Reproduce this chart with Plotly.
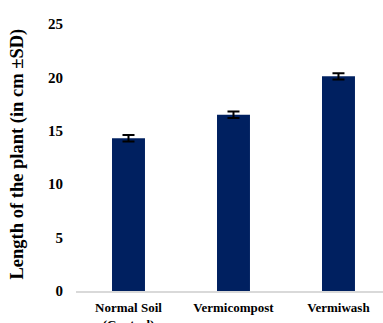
import plotly.graph_objects as go

categories = ["Normal Soil<br>(Control)", "Vermicompost", "Vermiwash"]
plant_length = [14.3, 16.5, 20.1]
plant_length_sd = [0.3, 0.3, 0.3]
y_ticks = [0, 5, 10, 15, 20, 25]
y_title = "Length of the plant (in cm ±SD)"

serif = "Liberation Serif, serif"

fig = go.Figure(
    go.Bar(
        x=categories,
        y=plant_length,
        marker=dict(color="#002060", line=dict(width=0)),
        error_y=dict(type="data", array=plant_length_sd, visible=True,
                     color="black", thickness=2, width=6),
    )
)

fig.update_layout(
    width=383,
    height=323,
    margin=dict(l=76, r=0, t=24, b=32),
    paper_bgcolor="white",
    plot_bgcolor="white",
    bargap=0.686,
    showlegend=False,
    font=dict(family=serif, color="black", size=13, weight=700),
)

fig.update_xaxes(
    range=[-0.5, 2.424],
    showline=True,
    linecolor="#d9d9d9",
    linewidth=1.5,
    showgrid=False,
    ticks="",
    ticklabelstandoff=4,
    automargin=False,
    tickfont_size=13,
)

fig.update_yaxes(
    range=[0, 25],
    tickvals=y_ticks,
    showgrid=False,
    zeroline=False,
    showline=False,
    ticks="",
    ticklabelstandoff=12,
    automargin=False,
    tickfont_size=15,
)

# rotated y-axis title, placed left of the tick labels
fig.add_annotation(
    text=y_title,
    xref="paper", yref="paper",
    x=-0.189, y=0.515,
    xanchor="center", yanchor="middle",
    textangle=-90,
    showarrow=False,
    font=dict(size=18.5, family=serif, color="black", weight=700),
)

fig.write_html("out.html")
